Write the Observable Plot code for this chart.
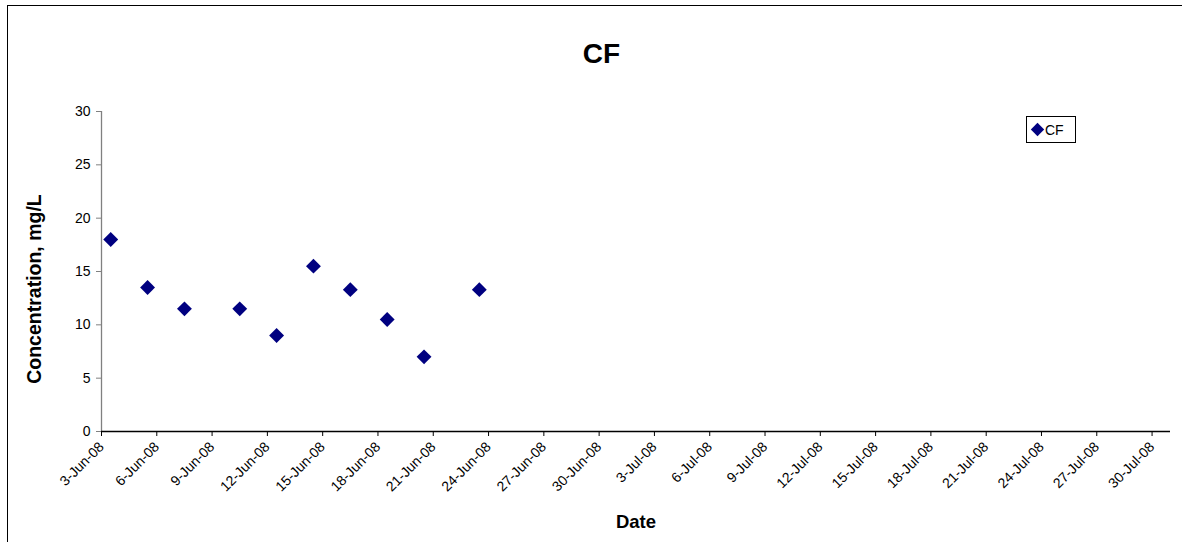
<!DOCTYPE html>
<html>
<head>
<meta charset="utf-8">
<script src="https://cdn.jsdelivr.net/npm/d3@7"></script>
<script src="https://cdn.jsdelivr.net/npm/@observablehq/plot@0.6"></script>
<style>
  html, body { margin: 0; padding: 0; background: #fff; }
  #wrap { position: relative; width: 1182px; height: 542px; overflow: hidden; background: #fff; font-family: "Liberation Sans", Arial, sans-serif; }
  #border { position: absolute; left: 7px; top: 5px; width: 1300px; height: 700px; border-left: 1px solid #000; border-top: 1px solid #000; box-sizing: border-box; }
  #chart { position: absolute; left: 0; top: 0; }
  #overlay { position: absolute; left: 0; top: 0; pointer-events: none; }
</style>
</head>
<body>
<div id="wrap">
  <div id="border"></div>
  <div id="chart"></div>
  <svg id="overlay" width="1182" height="542"></svg>
</div>
<script>
// ---- data ----
const title = "CF";
const seriesName = "CF";
const xLabel = "Date";
const yLabel = "Concentration, mg/L";
const dates = [
  "2008-06-03T12:00Z", "2008-06-05T12:00Z", "2008-06-07T12:00Z", "2008-06-10T12:00Z",
  "2008-06-12T12:00Z", "2008-06-14T12:00Z", "2008-06-16T12:00Z", "2008-06-18T12:00Z",
  "2008-06-20T12:00Z", "2008-06-23T12:00Z"
];
const values = [18, 13.5, 11.5, 11.5, 9, 15.5, 13.3, 10.5, 7, 13.3];
const xTickDates = [
  "2008-06-03", "2008-06-06", "2008-06-09", "2008-06-12", "2008-06-15", "2008-06-18",
  "2008-06-21", "2008-06-24", "2008-06-27", "2008-06-30", "2008-07-03", "2008-07-06",
  "2008-07-09", "2008-07-12", "2008-07-15", "2008-07-18", "2008-07-21", "2008-07-24",
  "2008-07-27", "2008-07-30"
];
const xDomain = ["2008-06-03", "2008-07-31"];
const yTicks = [0, 5, 10, 15, 20, 25, 30];
const yDomain = [0, 30];

// ---- build ----
const parse = s => new Date(s.length === 10 ? s + "T00:00Z" : s);
const data = dates.map((d, i) => ({date: parse(d), value: values[i]}));
const fmt = d3.utcFormat("%-d-%b-%y");
const navy = "#000080";

const chart = Plot.plot({
  width: 1182,
  height: 542,
  marginLeft: 101,
  marginRight: 12,
  marginTop: 111,
  marginBottom: 111,
  style: {fontFamily: "'Liberation Sans', Arial, sans-serif", fontSize: "14px", background: "transparent", color: "#000", overflow: "visible"},
  x: {type: "utc", domain: xDomain.map(parse)},
  y: {domain: yDomain},
  marks: [
    Plot.ruleX([parse(xDomain[0])], {stroke: "#808080", strokeWidth: 1.3}),
    Plot.ruleY([yDomain[0]], {stroke: "#000", strokeWidth: 1.3}),
    Plot.axisY({ticks: yTicks, tickSize: 5, tickPadding: 6, label: null, stroke: "#808080", fill: "#000", fontSize: 14}),
    Plot.axisX({ticks: xTickDates.map(parse), tickSize: 5, label: null, stroke: "#000", tickFormat: () => ""}),
    Plot.axisX({ticks: xTickDates.map(parse), tickFormat: fmt, tickRotate: -45, tickSize: 0, tickPadding: 13,
      label: null, fill: "#000", textAnchor: "end", fontSize: 14}),
    Plot.dot(data, {x: "date", y: "value", symbol: "diamond2", r: 6.7, fill: navy, stroke: "none"})
  ]
});
document.getElementById("chart").appendChild(chart);

// ---- titles & legend ----
const ov = d3.select("#overlay").style("font-family", "'Liberation Sans', Arial, sans-serif");
ov.append("text").attr("x", 601.5).attr("y", 62.5).attr("text-anchor", "middle")
  .attr("font-size", 28).attr("font-weight", "bold").text(title);
ov.append("text").attr("x", 636).attr("y", 528).attr("text-anchor", "middle")
  .attr("font-size", 18.5).attr("font-weight", "bold").text(xLabel);
ov.append("text").attr("transform", "translate(41,289) rotate(-90)").attr("text-anchor", "middle")
  .attr("font-size", 19.5).attr("font-weight", "bold").text(yLabel);
const lg = ov.append("g");
lg.append("rect").attr("x", 1026.5).attr("y", 116.5).attr("width", 49).attr("height", 26)
  .attr("fill", "#fff").attr("stroke", "#000").attr("stroke-width", 1);
lg.append("path").attr("d", d3.symbol(d3.symbolDiamond2, Math.PI * 6 * 6)())
  .attr("transform", "translate(1037.5,129.5)").attr("fill", navy);
lg.append("text").attr("x", 1045).attr("y", 134.5).attr("font-size", 14).text(seriesName);
</script>
</body>
</html>
